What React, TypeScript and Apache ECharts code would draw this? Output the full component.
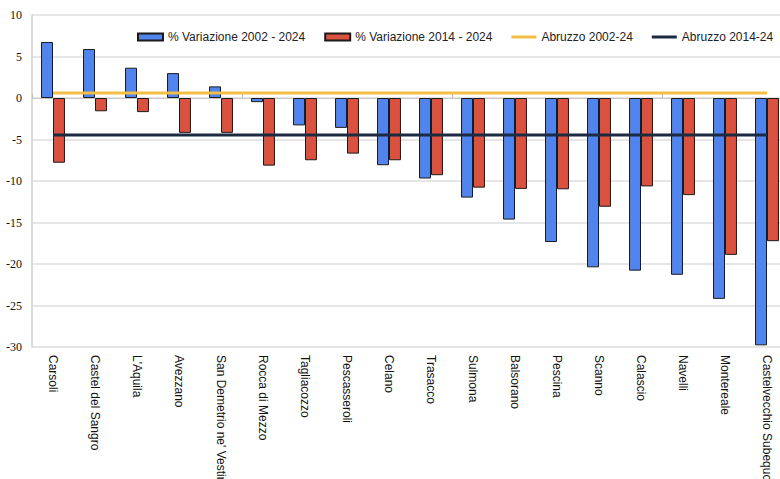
import React, { useEffect, useRef } from "react";
import * as echarts from "echarts";

const categories = [
  "Carsoli",
  "Castel del Sangro",
  "L'Aquila",
  "Avezzano",
  "San Demetrio ne' Vestini",
  "Rocca di Mezzo",
  "Tagliacozzo",
  "Pescasseroli",
  "Celano",
  "Trasacco",
  "Sulmona",
  "Balsorano",
  "Pescina",
  "Scanno",
  "Calascio",
  "Navelli",
  "Montereale",
  "Castelvecchio Subequo",
];

const var2002_2024 = [6.75, 5.9, 3.65, 3.0, 1.4, -0.5, -3.3, -3.6, -8.1, -9.7, -12.0, -14.65, -17.35, -20.4, -20.8, -21.3, -24.2, -29.8];
const var2014_2024 = [-7.8, -1.6, -1.7, -4.2, -4.2, -8.15, -7.5, -6.7, -7.5, -9.3, -10.8, -10.95, -11.0, -13.1, -10.65, -11.7, -18.9, -17.25];
const abruzzo2002_24 = [0.6, 0.6, 0.6, 0.6, 0.6, 0.6, 0.6, 0.6, 0.6, 0.6, 0.6, 0.6, 0.6, 0.6, 0.6, 0.6, 0.6, 0.6];
const abruzzo2014_24 = [-4.45, -4.45, -4.45, -4.45, -4.45, -4.45, -4.45, -4.45, -4.45, -4.45, -4.45, -4.45, -4.45, -4.45, -4.45, -4.45, -4.45, -4.45];

const seriesNames = ["% Variazione 2002 - 2024", "% Variazione 2014 - 2024", "Abruzzo 2002-24", "Abruzzo 2014-24"];

export default function App() {
  const ref = useRef<HTMLDivElement>(null);
  useEffect(() => {
    document.body.style.margin = "0";
    if (!ref.current) return;
    const chart = echarts.init(ref.current, null, { renderer: "svg" });
    const sans = "Liberation Sans";
    const lineIcon = "path://M0,0H25V3H0Z";
    chart.setOption({
      animation: false,
      backgroundColor: "#ffffff",
      grid: {
        left: 32,
        top: 15,
        width: 756,
        height: 332,
        containLabel: false,
        outerBoundsMode: "none",
      },
      legend: {
        left: 137,
        top: 31,
        padding: 0,
        width: 700,
        itemWidth: 25,
        itemHeight: 7,
        itemGap: 19,
        textStyle: { fontFamily: sans, fontSize: 12, color: "#222" },
        data: [
          { name: seriesNames[0], icon: "rect" },
          { name: seriesNames[1], icon: "rect" },
          { name: seriesNames[2], icon: lineIcon },
          { name: seriesNames[3], icon: lineIcon },
        ],
      },
      xAxis: [
        {
          type: "category",
          data: categories,
          position: "bottom",
          axisLine: { show: false, onZero: false },
          axisTick: { show: false },
          axisLabel: {
            rotate: -90,
            interval: 0,
            fontFamily: sans,
            fontSize: 12,
            color: "#111",
            margin: 8,
          },
        },
        {
          type: "category",
          data: categories,
          position: "bottom",
          axisLine: { show: true, onZero: true, lineStyle: { color: "#c8c8c8", width: 1 } },
          axisTick: { show: true, inside: true, length: 4, lineStyle: { color: "#bdbdbd" } },
          axisLabel: { show: false },
        },
      ],
      yAxis: {
        type: "value",
        min: -30,
        max: 10,
        interval: 5,
        axisLine: { show: true, lineStyle: { color: "#cfcfcf", width: 1.5 } },
        axisTick: { show: false },
        splitLine: { show: true, lineStyle: { color: "#dedede", width: 1.5 } },
        axisLabel: {
          fontFamily: "Liberation Serif",
          fontSize: 12,
          color: "#111",
          margin: 10,
        },
      },
      series: [
        {
          name: seriesNames[0],
          type: "bar",
          data: var2002_2024,
          barGap: "0%",
          barCategoryGap: "43%",
          itemStyle: { color: "#5184ec", borderColor: "#1b1b1b", borderWidth: 1 },
        },
        {
          name: seriesNames[1],
          type: "bar",
          data: var2014_2024,
          barGap: "0%",
          barCategoryGap: "43%",
          itemStyle: { color: "#d9513f", borderColor: "#1b1b1b", borderWidth: 1 },
        },
        {
          name: seriesNames[2],
          type: "line",
          data: abruzzo2002_24,
          symbol: "none",
          z: 5,
          lineStyle: { color: "#f2be43", width: 3 },
          itemStyle: { color: "#f2be43" },
        },
        {
          name: seriesNames[3],
          type: "line",
          data: abruzzo2014_24,
          symbol: "none",
          z: 5,
          lineStyle: { color: "#1c2a42", width: 3 },
          itemStyle: { color: "#1c2a42" },
        },
      ],
    });
    return () => chart.dispose();
  }, []);
  return <div ref={ref} style={{ width: 780, height: 479 }} />;
}
